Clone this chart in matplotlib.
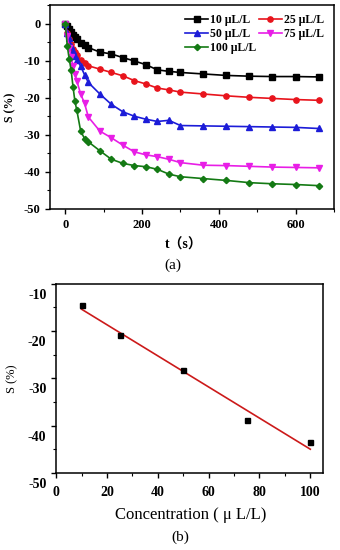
import numpy as np
import matplotlib
matplotlib.use("Agg")
import matplotlib.pyplot as plt
import matplotlib.transforms as mtransforms
from matplotlib.ticker import MultipleLocator

plt.rcParams["font.family"] = ["Liberation Serif", "Noto Sans CJK SC", "DejaVu Sans"]
plt.rcParams["mathtext.default"] = "regular"

# ---- panel (a): response vs time ------------------------------------------
t_s = [0, 5, 10, 15, 20, 25, 30, 40, 50, 60, 90, 120, 150, 180, 210, 240, 270,
       300, 360, 420, 480, 540, 600, 660]
s_10 = [0, -0.8, -1.5, -2.2, -3.0, -3.6, -4.2, -5.2, -5.9, -6.5, -7.7, -8.2,
        -9.2, -10.1, -11.1, -12.5, -12.9, -13.2, -13.6, -14.0, -14.2, -14.3,
        -14.3, -14.4]
s_25 = [0, -2.5, -4.2, -5.6, -6.8, -7.8, -8.6, -9.8, -10.6, -11.4, -12.3, -13.2,
        -14.1, -15.4, -16.3, -17.4, -17.9, -18.5, -19.0, -19.5, -19.9, -20.2,
        -20.5, -20.7]
s_50 = [0, -2.5, -4.0, -6.0, -7.5, -8.7, -9.8, -11.5, -13.8, -15.9, -19.0, -21.8,
        -23.8, -25.0, -25.8, -26.4, -26.1, -27.5, -27.6, -27.7, -27.8, -27.9,
        -28.0, -28.3]
s_75 = [0, -3.5, -6.5, -9.0, -11.5, -13.5, -15.5, -19.0, -21.5, -25.2, -29.0,
        -30.8, -32.8, -34.6, -35.4, -35.9, -36.6, -37.5, -38.2, -38.3, -38.5,
        -38.7, -38.8, -38.9]
s_100 = [0, -6.0, -9.5, -12.5, -17.0, -21.0, -23.4, -29.0, -31.0, -31.9, -34.3,
         -36.6, -37.7, -38.3, -38.6, -39.3, -40.6, -41.3, -41.8, -42.3, -42.9,
         -43.2, -43.4, -43.7]

# ---- panel (b): response vs concentration ---------------------------------
conc = [10, 25, 50, 75, 100]
s_final = [-14.5, -20.8, -28.3, -38.8, -43.5]

SERIES = [
    ("10 μL/L", s_10, "#000000", "s"),
    ("25 μL/L", s_25, "#e8141c", "o"),
    ("50 μL/L", s_50, "#1c1cd8", "^"),
    ("75 μL/L", s_75, "#e81ee6", "v"),
    ("100 μL/L", s_100, "#147a14", "D"),
]

fig = plt.figure(figsize=(3.4, 5.5), dpi=100)
axa = fig.add_axes([0.147, 0.62, 0.835, 0.371])
axb = fig.add_axes([0.165, 0.14, 0.785, 0.344])

handles = {}
for label, ys, col, mk in SERIES:
    ms = 3.2 if mk == "D" else 3.8
    (h,) = axa.plot(t_s, ys, color=col, marker=mk, ms=ms, lw=1.2, label=label)
    handles[label] = h

axa.set_xlim(-40, 700)
axa.set_ylim(-50, 5)
axa.xaxis.set_major_locator(MultipleLocator(200))
axa.xaxis.set_minor_locator(MultipleLocator(100))
axa.yaxis.set_minor_locator(MultipleLocator(5))
axa.set_yticks([0, -10, -20, -30, -40, -50])
axa.set_yticklabels(["0", "-10", "-20", "-30", "-40", "-50"])
axa.tick_params(which="major", direction="out", length=3.5, width=1, labelsize=9)
axa.tick_params(which="minor", direction="out", length=2, width=0.8)
for lab in axa.get_xticklabels() + axa.get_yticklabels():
    lab.set_fontweight("bold")
for sp in axa.spines.values():
    sp.set_linewidth(1.1)
axa.set_ylabel("S (%)", fontsize=8.5, fontweight="bold")
axa.yaxis.set_label_coords(-0.118, 0.5)

order = ["10 μL/L", "50 μL/L", "100 μL/L", "25 μL/L", "75 μL/L"]
axa.legend([handles[k] for k in order], order, ncol=2, loc="upper right",
           bbox_to_anchor=(0.995, 0.995), frameon=False, handlelength=2.0,
           handletextpad=0.15, columnspacing=0.2, labelspacing=0.18,
           borderaxespad=0.3, prop={"size": 8.5, "weight": "bold"})

fig.text(0.54, 1 - 245 / 550, "t（s）", ha="center", va="center", fontsize=10,
         fontweight="bold")
fig.text(0.507, 1 - 265 / 550, "(a)", ha="center", va="center", fontsize=11)

# panel (b)
axb.plot(conc, s_final, ls="none", marker="s", ms=3.6, color="black", zorder=3)
slope, intercept = np.polyfit(conc, s_final, 1)
xfit = np.array([min(conc), max(conc)])
axb.plot(xfit, slope * xfit + intercept, color="#cc1a1a", lw=1.2, zorder=2)

axb.set_xlim(0, 105)
axb.set_ylim(-50, -10)
axb.xaxis.set_major_locator(MultipleLocator(20))
axb.xaxis.set_minor_locator(MultipleLocator(10))
axb.yaxis.set_minor_locator(MultipleLocator(5))
axb.set_yticks([-10, -20, -30, -40, -50])
axb.set_yticklabels(["-10", "-20", "-30", "-40", "-50"])
axb.tick_params(which="major", direction="out", length=3.5, width=1, labelsize=10)
axb.tick_params(which="minor", direction="out", length=2, width=0.8)
axb.tick_params(axis="x", which="major", pad=6)
shift = mtransforms.ScaledTranslation(0, -0.10, fig.dpi_scale_trans)
for lab in axb.get_yticklabels():
    lab.set_transform(lab.get_transform() + shift)
for lab in axb.get_xticklabels() + axb.get_yticklabels():
    lab.set_fontweight("bold")
for sp in axb.spines.values():
    sp.set_linewidth(1.1)
axb.set_ylabel("S (%)", fontsize=9)
axb.yaxis.set_label_coords(-0.14, 0.5)

fig.text(0.56, 1 - 515 / 550, "Concentration ( μ L/L)", ha="center",
         va="center", fontsize=12)
fig.text(0.53, 1 - 537 / 550, "(b)", ha="center", va="center", fontsize=11)

fig.savefig("out.png", dpi=100)
